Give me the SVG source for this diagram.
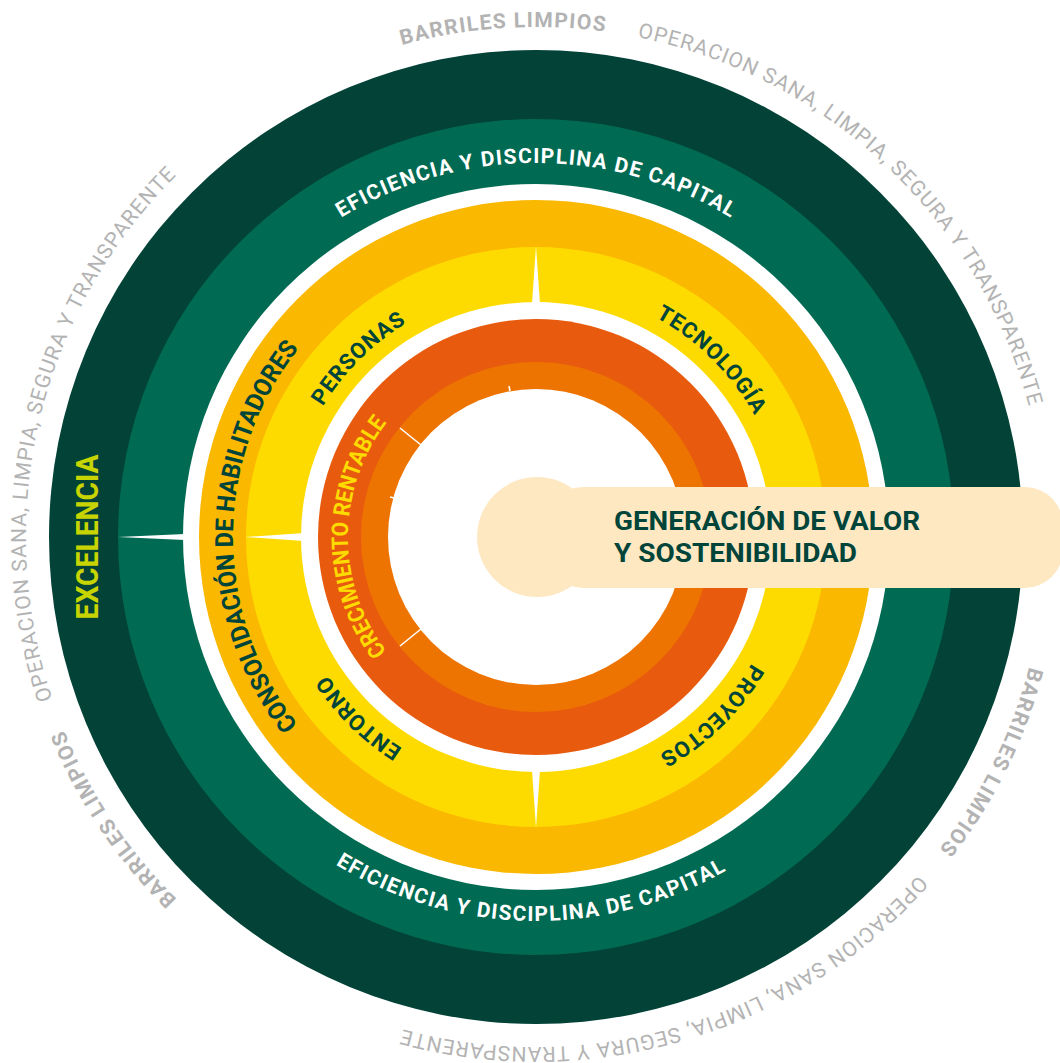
<svg xmlns="http://www.w3.org/2000/svg" xmlns:xlink="http://www.w3.org/1999/xlink" width="1060" height="1063" viewBox="0 0 1060 1063">
<defs>
<style>
.gb{font-family:Roboto,'Liberation Sans',sans-serif;font-weight:700;font-size:21px;fill:#b3b3b3}
.gr{font-family:Roboto,'Liberation Sans',sans-serif;font-weight:400;font-size:21px;fill:#b3b3b3}
.wh{font-family:Roboto,'Liberation Sans',sans-serif;font-weight:700;font-size:21px;fill:#ffffff}
.dk{font-family:Roboto,'Liberation Sans',sans-serif;font-weight:700;fill:#00443a}
.spike{fill:#ffffff}
</style>
<path id="pGray" d="M536,1047 A510,510 0 0 1 536,27 A510,510 0 0 1 536,1047"/>
<path id="pEfTop" d="M536,911 A374,374 0 0 1 536,163 A374,374 0 0 1 536,911"/>
<path id="pEfBot" d="M536,153 A384,384 0 0 0 536,921 A384,384 0 0 0 536,153"/>
<path id="pCons" d="M536,840 A303,303 0 0 1 536,234 A303,303 0 0 1 536,840"/>
<path id="pPil" d="M536,787 A250,250 0 0 1 536,287 A250,250 0 0 1 536,787"/>
<path id="pCrec" d="M536,725 A188,188 0 0 1 536,349 A188,188 0 0 1 536,725"/>
</defs>
<rect width="1060" height="1063" fill="#ffffff"/>

<g id="ring-excelencia">
<circle cx="536" cy="537" r="487" fill="#024237"/>
<text class="dk" transform="translate(98,537) rotate(-90)" text-anchor="middle" font-size="31" style="fill:#c8d400" textLength="165" lengthAdjust="spacingAndGlyphs">EXCELENCIA</text>
</g>

<g id="ring-eficiencia">
<circle cx="536" cy="537" r="418" fill="#006a52"/>
<circle cx="536" cy="537" r="353" fill="#ffffff"/>
<polygon class="spike" points="118,537 185,534 185,540"/>
<text class="wh"><textPath xlink:href="#pEfTop" href="#pEfTop" startOffset="50%" text-anchor="middle" textLength="410" lengthAdjust="spacing">EFICIENCIA Y DISCIPLINA DE CAPITAL</textPath></text>
<text class="wh" transform="rotate(0.9 536 537)"><textPath xlink:href="#pEfBot" href="#pEfBot" startOffset="50%" text-anchor="middle" textLength="410" lengthAdjust="spacing">EFICIENCIA Y DISCIPLINA DE CAPITAL</textPath></text>
</g>

<g id="ring-habilitadores">
<circle cx="536" cy="537" r="337" fill="#fab800"/>
<circle cx="536" cy="537" r="290" fill="#fedb00"/>
<circle cx="536" cy="537" r="235" fill="#ffffff"/>
<polygon class="spike" points="245,537 304,533 304,541"/>
<polygon class="spike" points="536,246 532,304 540,304"/>
<polygon class="spike" points="536,828 532,770 540,770"/>
<text class="dk" font-size="25" transform="rotate(-89.9 536 537)"><textPath xlink:href="#pCons" href="#pCons" startOffset="50%" text-anchor="middle" textLength="406" lengthAdjust="spacingAndGlyphs">CONSOLIDACIÓN DE HABILITADORES</textPath></text>
</g>

<g id="pilar-personas">
<text class="dk" font-size="22" letter-spacing="0.8" transform="rotate(-44.8 536 537)"><textPath xlink:href="#pPil" href="#pPil" startOffset="50%" text-anchor="middle">PERSONAS</textPath></text>
</g>
<g id="pilar-tecnologia">
<text class="dk" font-size="22" letter-spacing="0.8" transform="rotate(44.8 536 537)"><textPath xlink:href="#pPil" href="#pPil" startOffset="50%" text-anchor="middle">TECNOLOGÍA</textPath></text>
</g>
<g id="pilar-proyectos">
<text class="dk" font-size="22" letter-spacing="0.8" transform="rotate(135.5 536 537)"><textPath xlink:href="#pPil" href="#pPil" startOffset="50%" text-anchor="middle">PROYECTOS</textPath></text>
</g>
<g id="pilar-entorno">
<text class="dk" font-size="22" letter-spacing="0.8" transform="rotate(224.5 536 537)"><textPath xlink:href="#pPil" href="#pPil" startOffset="50%" text-anchor="middle">ENTORNO</textPath></text>
</g>

<g id="ring-crecimiento">
<circle cx="536" cy="537" r="218" fill="#e85a0d"/>
<circle cx="536" cy="537" r="175" fill="#ee7402"/>
<circle cx="536" cy="537" r="148" fill="#ffffff"/>
<g stroke="#ffffff" stroke-width="1.6">
<line x1="400" y1="428" x2="421" y2="445"/>
<line x1="400" y1="646" x2="421" y2="629"/>
<line x1="509" y1="386" x2="510" y2="391"/>
<line x1="390" y1="497" x2="394" y2="498"/>
</g>
<text class="dk" font-size="23" font-weight="500" style="fill:#fedb00" transform="rotate(-90 536 537)"><textPath xlink:href="#pCrec" href="#pCrec" startOffset="50%" text-anchor="middle" textLength="246" lengthAdjust="spacingAndGlyphs">CRECIMIENTO RENTABLE</textPath></text>
</g>

<g id="centro-generacion-valor">
<circle cx="537" cy="537" r="60" fill="#fde8c2"/>
<rect x="545" y="487" width="518" height="101" rx="38" fill="#fde8c2"/>
<text class="dk" x="614" y="530" font-size="26" textLength="306" lengthAdjust="spacingAndGlyphs">GENERACIÓN DE VALOR</text>
<text class="dk" x="614" y="562" font-size="26" textLength="243" lengthAdjust="spacingAndGlyphs">Y SOSTENIBILIDAD</text>
</g>

<g id="lema-exterior">
<text class="gb" transform="rotate(-3.75 536 537)"><textPath xlink:href="#pGray" href="#pGray" startOffset="50%" text-anchor="middle" textLength="205" lengthAdjust="spacing">BARRILES LIMPIOS</textPath></text>
<text class="gr" transform="rotate(43.3 536 537)"><textPath xlink:href="#pGray" href="#pGray" startOffset="50%" text-anchor="middle" textLength="567" lengthAdjust="spacing">OPERACION SANA, LIMPIA, SEGURA Y TRANSPARENTE</textPath></text>
<text class="gb" transform="rotate(116.25 536 537)"><textPath xlink:href="#pGray" href="#pGray" startOffset="50%" text-anchor="middle" textLength="205" lengthAdjust="spacing">BARRILES LIMPIOS</textPath></text>
<text class="gr" transform="rotate(163.3 536 537)"><textPath xlink:href="#pGray" href="#pGray" startOffset="50%" text-anchor="middle" textLength="567" lengthAdjust="spacing">OPERACION SANA, LIMPIA, SEGURA Y TRANSPARENTE</textPath></text>
<text class="gb" transform="rotate(236.25 536 537)"><textPath xlink:href="#pGray" href="#pGray" startOffset="50%" text-anchor="middle" textLength="205" lengthAdjust="spacing">BARRILES LIMPIOS</textPath></text>
<text class="gr" transform="rotate(283.3 536 537)"><textPath xlink:href="#pGray" href="#pGray" startOffset="50%" text-anchor="middle" textLength="567" lengthAdjust="spacing">OPERACION SANA, LIMPIA, SEGURA Y TRANSPARENTE</textPath></text>
</g>
</svg>
